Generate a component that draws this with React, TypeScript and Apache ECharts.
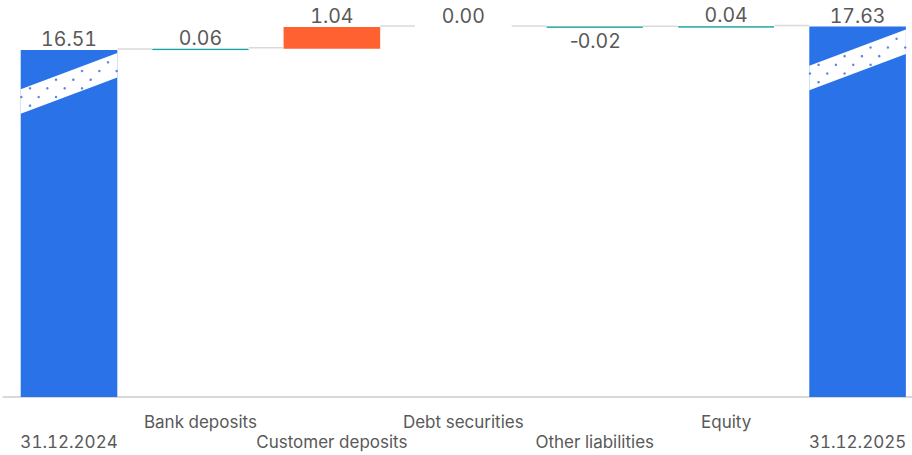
import React, { useEffect, useRef } from "react";
import * as echarts from "echarts";

const categories = [
  "31.12.2024",
  "Bank deposits",
  "Customer deposits",
  "Debt securities",
  "Other liabilities",
  "Equity",
  "31.12.2025",
];
const startTotal = 16.51;
const changes = [0.06, 1.04, 0.0, -0.02, 0.04];
const endTotal = 17.63;
const highlighted = ["Customer deposits"];

const BLUE = "#2A72E8";
const ORANGE = "#FF6131";
const TEAL = "#0C9E9C";
const GREY = "#DADADA";
const TEXT = "#595959";
const FONT = "Inter";
const BAR_RATIO = 0.735;

function buildData() {
  const base: number[] = [0];
  const heights: number[] = [startTotal];
  const labels: string[] = [startTotal.toFixed(2)];
  const levels: number[] = [startTotal];
  let run = startTotal;
  changes.forEach((c) => {
    const next = Math.round((run + c) * 100) / 100;
    base.push(Math.min(run, next));
    heights.push(Math.abs(c));
    labels.push(c.toFixed(2));
    run = next;
    levels.push(run);
  });
  base.push(0);
  heights.push(endTotal);
  labels.push(endTotal.toFixed(2));
  return { base, heights, labels, levels };
}

export default function App() {
  const ref = useRef<HTMLDivElement>(null);
  useEffect(() => {
    if (!ref.current) return;
    const chart = echarts.init(ref.current, null, { renderer: "svg" });
    const { base, heights, labels, levels } = buildData();
    const n = categories.length;

    const valueData = heights.map((h, i) => {
      const isTotal = i === 0 || i === n - 1;
      const delta = isTotal ? 0 : changes[i - 1];
      const baseColor = isTotal
        ? BLUE
        : highlighted.includes(categories[i])
        ? ORANGE
        : TEAL;
      const color = h === 0 ? "transparent" : baseColor;
      const thin = !isTotal && !highlighted.includes(categories[i]) && h > 0;
      const txt = labels[i];
      return {
        value: h,
        itemStyle: {
          color,
          borderColor: color,
          borderWidth: thin ? 0.9 : 0,
        },
        label: {
          show: true,
          position: delta < 0 ? "bottom" : "top",
          distance: delta < 0 ? 3 : 1,
          formatter: () =>
            txt.startsWith("-") ? "{h|-}{d|" + txt.slice(1) + "}" : txt,
          color: TEXT,
          fontSize: 19.5,
          fontFamily: FONT,
          rich: {
            h: { color: TEXT, fontSize: 19.5, fontFamily: "Inter, sans-serif" },
            d: { color: TEXT, fontSize: 19.5, fontFamily: FONT },
          },
        },
      };
    });

    const connectorData = levels.map((lv, i) => [i, lv]);
    const breakData = [
      [0, startTotal],
      [n - 1, endTotal],
    ];

    chart.setOption({
      animation: false,
      grid: {
        left: 3.3,
        right: 6.7,
        top: 26.5,
        bottom: 58,
        containLabel: false,
        outerBoundsMode: "none",
      },
      xAxis: {
        type: "category",
        data: categories,
        axisLine: { show: true, lineStyle: { color: "#D9D9D9", width: 2 } },
        axisTick: { show: false },
        axisLabel: {
          interval: 0,
          margin: 15,
          lineHeight: 20,
          color: TEXT,
          fontSize: 17,
          fontFamily: FONT,
          formatter: (v: string, i: number) => (i % 2 === 0 ? "\n" + v : v),
        },
      },
      yAxis: { type: "value", min: 0, max: endTotal, show: false },
      series: [
        {
          type: "bar",
          stack: "w",
          barWidth: BAR_RATIO * 100 + "%",
          itemStyle: { color: "transparent" },
          data: base,
          silent: true,
        },
        {
          type: "bar",
          stack: "w",
          barWidth: BAR_RATIO * 100 + "%",
          data: valueData,
        },
        {
          type: "custom",
          data: connectorData.slice(0, n - 1),
          z: 3,
          renderItem: (params: any, api: any) => {
            const i = api.value(0);
            const lv = api.value(1);
            const p1 = api.coord([i, lv]);
            const p2 = api.coord([i + 1, lv]);
            const bw = api.size([1, 0])[0] * BAR_RATIO;
            return {
              type: "line",
              shape: {
                x1: p1[0] + bw / 2,
                y1: p1[1] - 1,
                x2: p2[0] - bw / 2,
                y2: p1[1] - 1,
              },
              style: { stroke: GREY, lineWidth: 1.5 },
            };
          },
        },
        {
          type: "custom",
          data: breakData,
          z: 4,
          renderItem: (params: any, api: any) => {
            const p = api.coord([api.value(0), api.value(1)]);
            const bw = api.size([1, 0])[0] * BAR_RATIO;
            const L = p[0] - bw / 2;
            const R = p[0] + bw / 2;
            const T = p[1];
            const slope = 0.375;
            const top0 = T + 39.3;
            const thick = 24.5;
            const topAt = (x: number) => top0 - slope * (x - L);
            const children: any[] = [
              {
                type: "polygon",
                shape: {
                  points: [
                    [L, topAt(L)],
                    [R, topAt(R)],
                    [R, topAt(R) + thick],
                    [L, topAt(L) + thick],
                  ],
                },
                style: { fill: "#ffffff" },
              },
            ];
            const dx = 17.33;
            const dy = 8.67;
            for (let r = -12; r < 14; r++) {
              const y = T + 38.3 - r * dy;
              const off = (Math.abs(r) % 2) * (dx / 2);
              for (let k = -2; k < 9; k++) {
                const x = L + 9.3 + off + k * dx;
                if (x < L - 6 || x > R + 6) continue;
                const t = topAt(x);
                if (y < t + 2 || y > t + thick - 2) continue;
                children.push({
                  type: "circle",
                  shape: { cx: x, cy: y, r: 1.25 },
                  style: { fill: "#5F86DD" },
                });
              }
            }
            return { type: "group", children };
          },
        },
      ],
    });
    return () => chart.dispose();
  }, []);

  return (
    <div
      style={{
        position: "fixed",
        left: 0,
        top: 0,
        width: 912,
        height: 455,
        overflow: "hidden",
        background: "#fff",
      }}
    >
      <style>{`svg text, svg tspan { font-variant-numeric: tabular-nums !important; font-feature-settings: "tnum" 1 !important; }
svg text[style*="sans-serif"] { font-variant-numeric: normal !important; font-feature-settings: normal !important; }`}</style>
      <div ref={ref} style={{ width: 930, height: 455 }} />
    </div>
  );
}
